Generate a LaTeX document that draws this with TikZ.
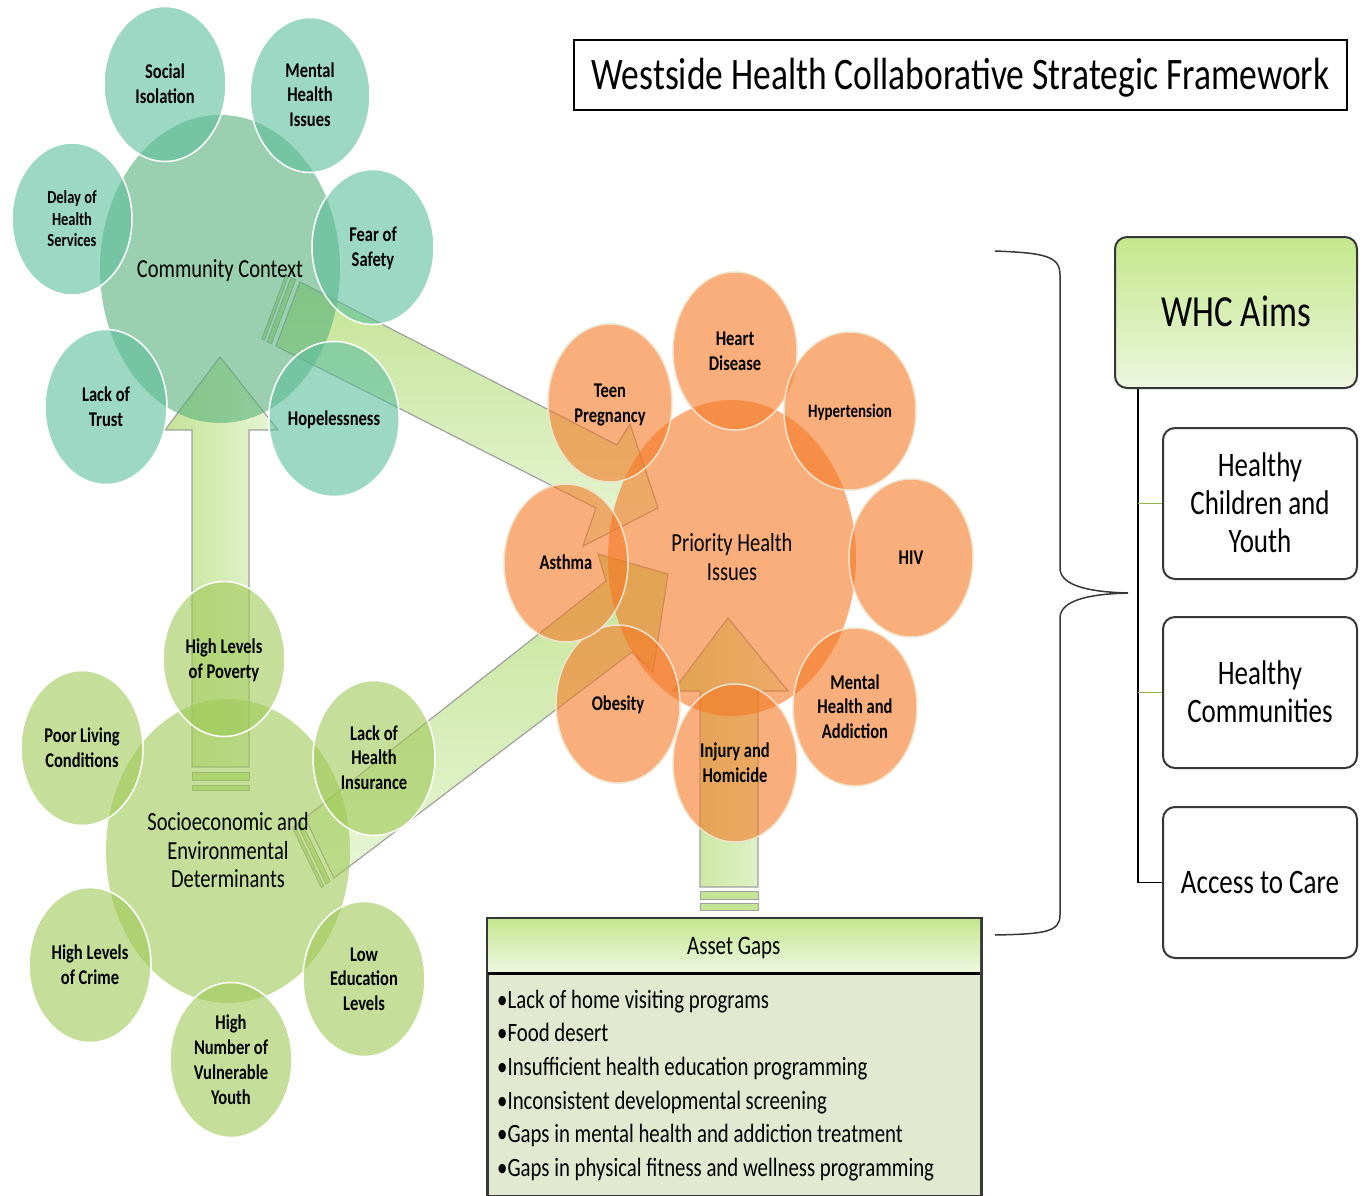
\documentclass[tikz,border=0pt]{standalone}
\usepackage{fontspec}
\setmainfont{Carlito}
\usepackage{graphicx}
\usetikzlibrary{shapes.geometric}

\definecolor{ctxhub}{RGB}{87,177,123}
\definecolor{ctxfill}{RGB}{92,190,157}
\definecolor{priofill}{RGB}{245,120,36}
\definecolor{priorim}{RGB}{238,228,204}
\definecolor{detfill}{RGB}{159,201,87}
\definecolor{arrowdark}{RGB}{196,228,150}
\definecolor{arrowlight}{RGB}{232,245,214}
\definecolor{arrowrim}{RGB}{160,160,160}
\definecolor{headtop}{RGB}{196,231,142}
\definecolor{headbottom}{RGB}{238,247,226}
\definecolor{gapsfill}{RGB}{225,234,208}
\definecolor{whcdark}{RGB}{196,232,140}
\definecolor{whclight}{RGB}{236,246,222}
\definecolor{rimgray}{RGB}{55,55,55}
\definecolor{linkgreen}{RGB}{140,180,70}

% text is drawn a little taller than wide, as in the source
\newcommand{\tallbox}[1]{\raisebox{-0.12em}[\height][\depth]{\scalebox{1}[1.27]{\begin{tabular}{@{}c@{}}#1\end{tabular}}}}
\newcommand{\tallboxl}[1]{\raisebox{-0.12em}[\height][\depth]{\scalebox{1}[1.27]{\begin{tabular}{@{}l@{}}#1\end{tabular}}}}

\tikzset{
  bubble/.style={ellipse, inner sep=0pt, line width=1.5pt, fill opacity=0.6, text opacity=1},
  hub/.style={bubble, draw=none, font=\fontsize{20.5}{22.5}\selectfont},
  sat/.style={bubble, minimum width=122pt, minimum height=155pt, font=\fontsize{16.5}{19.5}\selectfont\bfseries},
  ctxsat/.style={sat, draw=white, fill=ctxfill},
  priosat/.style={sat, draw=priorim, fill=priofill, minimum width=124pt, minimum height=158pt},
  detsat/.style={sat, draw=white, fill=detfill},
  blockarrow/.style={draw=arrowrim, line width=1.2pt},
  stripe/.style={draw=arrowrim, line width=0.8pt, fill=arrowdark},
  aimbox/.style={draw=rimgray, line width=2pt, rounded corners=12pt, minimum width=194pt, minimum height=151pt, font=\fontsize{27}{30}\selectfont},
}

\begin{document}
\begin{tikzpicture}[x=1pt, y=-1pt]
\useasboundingbox (0,0) rectangle (1366,1196);

% block arrows (under the bubbles)
\draw[blockarrow, left color=arrowdark, right color=arrowlight] (192,767) -- (192,430) -- (165,430) -- (220,357) -- (278,430) -- (249,430) -- (249,767) -- cycle;
\draw[stripe] (192,772) rectangle (249,780);
\draw[stripe] (192,785) rectangle (249,790);

\draw[blockarrow, left color=arrowdark, right color=arrowlight] (700,887) -- (700,691) -- (673,691) -- (728,618) -- (788,691) -- (758,691) -- (758,887) -- cycle;
\draw[stripe] (700,891) rectangle (758,899);
\draw[stripe] (700,903) rectangle (758,910);

\draw[blockarrow, top color=arrowdark, bottom color=arrowlight] (300,282) -- (617,445) -- (630,424) -- (658,508) -- (583,546) -- (596,508) -- (276,346) -- cycle;
\draw[stripe] (295.5,279.7) -- (291.1,277.5) -- (267.1,341.5) -- (271.5,343.7) -- cycle;
\draw[stripe] (288.4,276.1) -- (285.8,274.7) -- (261.8,338.7) -- (264.4,340.1) -- cycle;

\draw[blockarrow, top color=arrowdark, bottom color=arrowlight] (305,818) -- (606,581) -- (598,554) -- (668,574) -- (653,672) -- (632,652) -- (334,878) -- cycle;
\draw[stripe] (301.1,821.1) -- (297.1,824.1) -- (326.1,884.1) -- (330.1,881.1) -- cycle;
\draw[stripe] (294.7,825.9) -- (292.4,827.8) -- (321.4,887.8) -- (323.7,885.9) -- cycle;

% community context
\node[hub, fill=ctxhub, minimum width=240pt, minimum height=308pt] (context) at (220,269) {\tallbox{Community Context}};
\node[ctxsat] (isolation) at (165,84) {\tallbox{Social\\Isolation}};
\node[ctxsat, minimum width=120pt] (mentalissues) at (310,95) {\tallbox{Mental\\Health\\Issues}};
\node[ctxsat] (fearsafety) at (373,247) {\tallbox{Fear of\\Safety}};
\node[ctxsat, minimum width=128pt] (hopeless) at (334,419) {\tallbox{Hopelessness}};
\node[ctxsat] (lacktrust) at (106,407) {\tallbox{Lack of\\Trust}};
\node[ctxsat, minimum width=120pt, minimum height=152pt, font=\fontsize{14.5}{17}\selectfont\bfseries] (delay) at (72,219) {\tallbox{Delay of\\Health\\Services}};

% priority health issues
\node[hub, fill=priofill, minimum width=248pt, minimum height=316pt] (priority) at (732,558) {\tallbox{Priority Health\\Issues}};
\node[priosat] (heart) at (735,351) {\tallbox{Heart\\Disease}};
\node[priosat] (teen) at (610,403) {\tallbox{Teen\\Pregnancy}};
\node[priosat, minimum width=132pt, font=\fontsize{15}{18}\selectfont\bfseries] (hypertension) at (850,411) {\tallbox{Hypertension}};
\node[priosat] (hiv) at (911,558) {\tallbox{HIV}};
\node[priosat] (mentaladdiction) at (855,707) {\tallbox{Mental\\Health and\\Addiction}};
\node[priosat] (injury) at (735,763) {\tallbox{Injury and\\Homicide}};
\node[priosat] (obesity) at (618,704) {\tallbox{Obesity}};
\node[priosat] (asthma) at (566,563) {\tallbox{Asthma}};

% socioeconomic and environmental determinants
\node[hub, fill=detfill, minimum width=244pt, minimum height=304pt] (determinants) at (228,851) {\tallbox{Socioeconomic and\\Environmental\\Determinants}};
\node[detsat] (poverty) at (224,659) {\tallbox{High Levels\\of Poverty}};
\node[detsat] (living) at (82,748) {\tallbox{Poor Living\\Conditions}};
\node[detsat] (insurance) at (374,758) {\tallbox{Lack of\\Health\\Insurance}};
\node[detsat] (education) at (364,979) {\tallbox{Low\\Education\\Levels}};
\node[detsat] (youth) at (231,1060) {\tallbox{High\\Number of\\Vulnerable\\Youth}};
\node[detsat] (crime) at (90,965) {\tallbox{High Levels\\of Crime}};

% title
\node[draw=black, line width=1.5pt, minimum width=773pt, minimum height=70pt, font=\fontsize{35.5}{40}\selectfont] (title) at (960.5,75) {\tallbox{Westside Health Collaborative Strategic Framework}};

% asset gaps
\node[draw=rimgray, line width=2pt, fill=gapsfill, minimum width=493pt, minimum height=277pt, anchor=north west] (gapsbox) at (487,918) {};
\node[top color=headtop, bottom color=headbottom, minimum width=493pt, minimum height=55pt, anchor=north west, font=\fontsize{21}{24}\selectfont] (gapshead) at (487,918) {\tallbox{Asset Gaps}};
\draw[line width=3pt] (gapshead.south west) -- (gapshead.south east);
\draw[draw=rimgray, line width=2pt] (gapsbox.north west) rectangle (gapsbox.south east);
\node[anchor=west, inner sep=0pt, font=\fontsize{20.8}{26.5}\selectfont] (gapslist) at (497,1083) {\tallboxl{%
•Lack of home visiting programs\\
•Food desert\\
•Insufficient health education programming\\
•Inconsistent developmental screening\\
•Gaps in mental health and addiction treatment\\
•Gaps in physical fitness and wellness programming}};

% brace
\draw[draw=rimgray, line width=1.5pt] (995,251) .. controls (1045,253) and (1060,256) .. (1060,275) -- (1060,568) .. controls (1060,586) and (1090,592) .. (1128,593) .. controls (1090,594) and (1060,600) .. (1060,618) -- (1060,915) .. controls (1060,932) and (1045,934) .. (995,935);

% WHC aims
\node[aimbox, top color=whcdark, bottom color=whclight, minimum width=242pt, font=\fontsize{35}{40}\selectfont] (aims) at (1236,312.5) {\tallbox{WHC Aims}};
\node[aimbox, fill=white] (kids) at (1260,503.5) {\tallbox{Healthy\\Children and\\Youth}};
\node[aimbox, fill=white] (communities) at (1260,692.5) {\tallbox{Healthy\\Communities}};
\node[aimbox, fill=white] (access) at (1260,882.5) {\tallbox{Access to Care}};

\coordinate (trunk) at ([xshift=24pt]aims.south west);
\draw[line width=1.5pt] (trunk) |- (access.west);
\draw[line width=1.2pt, draw=linkgreen] (trunk |- kids.west) -- (kids.west);
\draw[line width=1.2pt, draw=linkgreen] (trunk |- communities.west) -- (communities.west);
\end{tikzpicture}
\end{document}
